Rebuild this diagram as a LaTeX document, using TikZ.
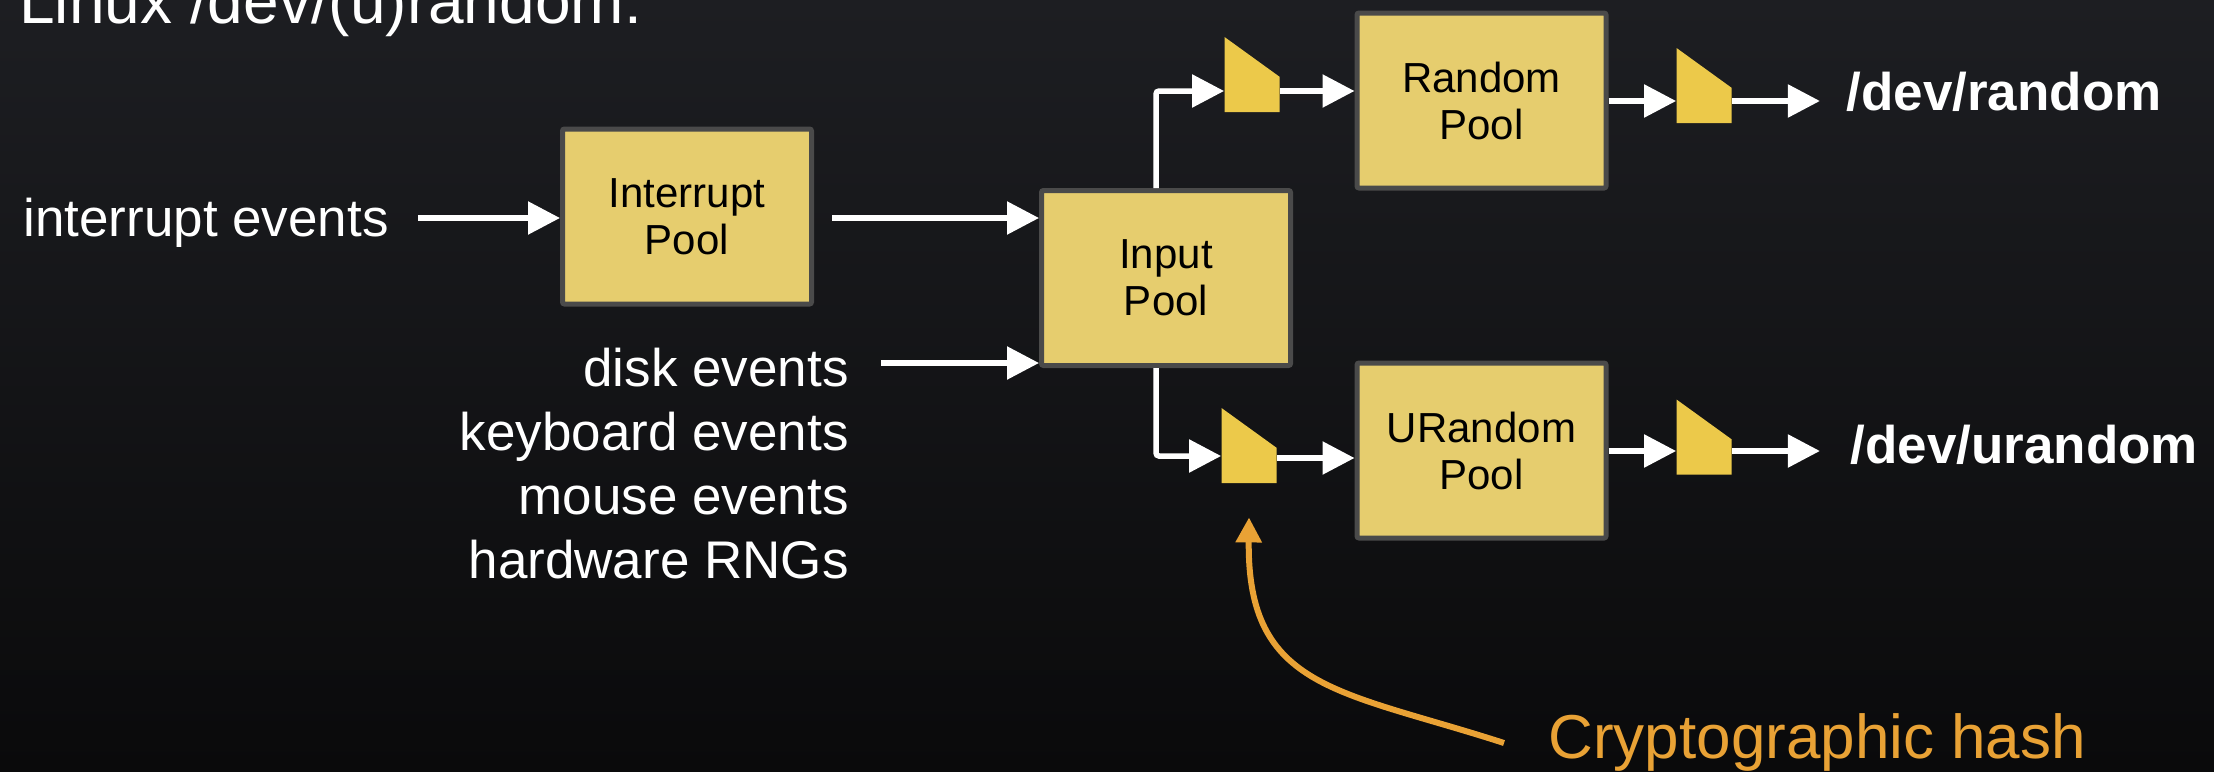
\documentclass[tikz,border=0pt]{standalone}
\usepackage{fontspec}
\setmainfont{Liberation Sans}
\usetikzlibrary{arrows.meta,calc}
\definecolor{bgtop}{HTML}{1D1E22}
\definecolor{bgbot}{HTML}{0A0A0B}
\definecolor{poolfill}{HTML}{E6CD6E}
\definecolor{poolline}{HTML}{4A4A4A}
\definecolor{hashfill}{HTML}{ECC94A}
\definecolor{noteorange}{HTML}{E9A235}
\begin{document}
\begin{tikzpicture}[x=0.5pt,y=-0.5pt,
  pool/.style={draw=poolline, fill=poolfill, line width=2.5pt, rounded corners=1pt,
    minimum width=124.5pt, minimum height=87.5pt, inner sep=0pt, align=center,
    font=\fontsize{21}{23.5}\selectfont, text=black},
  hashbox/.style={minimum width=27.5pt, minimum height=37.5pt, inner sep=0pt,
    path picture={\fill[hashfill] (path picture bounding box.north west)
      -- (path picture bounding box.south west)
      -- (path picture bounding box.south east)
      -- ($(path picture bounding box.south east)!0.47!(path picture bounding box.north east)$)
      -- cycle;}},
  flow/.style={draw=white, line width=2.75pt, rounded corners=1.5pt,
    -{Triangle[length=16pt,width=16pt]}},
  note/.style={draw=noteorange, line width=3pt, -{Triangle[length=12.5pt,width=12.5pt]}},
  lbl/.style={text=white, inner sep=0pt, font=\fontsize{26.5}{32}\selectfont},
  devlbl/.style={text=white, inner sep=0pt, font=\fontsize{26.5}{32}\selectfont\bfseries},
]
\useasboundingbox (0,0) rectangle (2214,771);
\fill[top color=bgtop, bottom color=bgbot] (0,0) rectangle (2214,771);

% title
\node[anchor=base west, text=white, inner sep=0pt, font=\fontsize{32}{38}\selectfont] (title) at (19,24) {Linux /dev/(u)random:};

% pools
\node[pool] (intp) at (687,216.5) {Interrupt\\Pool};
\node[pool] (inp) at (1166,278) {Input\\Pool};
\node[pool] (rp) at (1481.5,100.5) {Random\\Pool};
\node[pool] (urp) at (1481.5,450.5) {URandom\\Pool};

% hash blocks
\node[hashbox] (h1) at (1252,74.5) {};
\node[hashbox] (h2) at (1249,445.5) {};
\node[hashbox] (h3) at (1704,85.5) {};
\node[hashbox] (h4) at (1704,437) {};

% labels
\node[lbl, anchor=base west] (ie) at (23,236) {interrupt events};
\node[lbl, anchor=base east] (de) at (849,386) {disk events};
\node[lbl, anchor=base east] (ke) at (849,450) {keyboard events};
\node[lbl, anchor=base east] (me) at (849,514) {mouse events};
\node[lbl, anchor=base east] (hw) at (849,578) {hardware RNGs};
\node[devlbl, anchor=base west] (devr) at (1846,110) {/dev/random};
\node[devlbl, anchor=base west] (devu) at (1850,463) {/dev/urandom};
\node[anchor=base west, inner sep=0pt, text=noteorange, font=\fontsize{31}{36}\selectfont] (crypt) at (1548,758) {Cryptographic hash};

% helper coordinates
\coordinate (vx) at (1156,0);
\coordinate (yA) at (0,91);
\coordinate (yB) at (0,101);
\coordinate (yC) at (0,456);
\coordinate (yD) at (0,458);
\coordinate (yE) at (0,451);
\coordinate (ie0) at (418,218);
\coordinate (ip0) at (832,218);
\coordinate (de0) at (881,363);
\coordinate (c0) at (1504,743);

% connectors
\draw[flow] (ie0) -- (ie0 -| intp.west);
\draw[flow] (ip0) -- (ip0 -| inp.west);
\draw[flow] (de0) -- (de0 -| inp.west);
\draw[flow] (inp.north -| vx) |- (h1.west |- yA);
\draw[flow] (h1.east |- yA) -- (rp.west |- yA);
\draw[flow] (rp.east |- yB) -- (h3.west |- yB);
\draw[flow] (h3.east |- yB) -- ++(88,0);
\draw[flow] (inp.south -| vx) |- (h2.west |- yC);
\draw[flow] (h2.east |- yD) -- (urp.west |- yD);
\draw[flow] (urp.east |- yE) -- (h4.west |- yE);
\draw[flow] (h4.east |- yE) -- ++(88,0);

% annotation
\draw[note] (c0) .. controls (1340,690) and (1247,690) .. ([yshift=-17pt]h2.south);
\end{tikzpicture}
\end{document}
